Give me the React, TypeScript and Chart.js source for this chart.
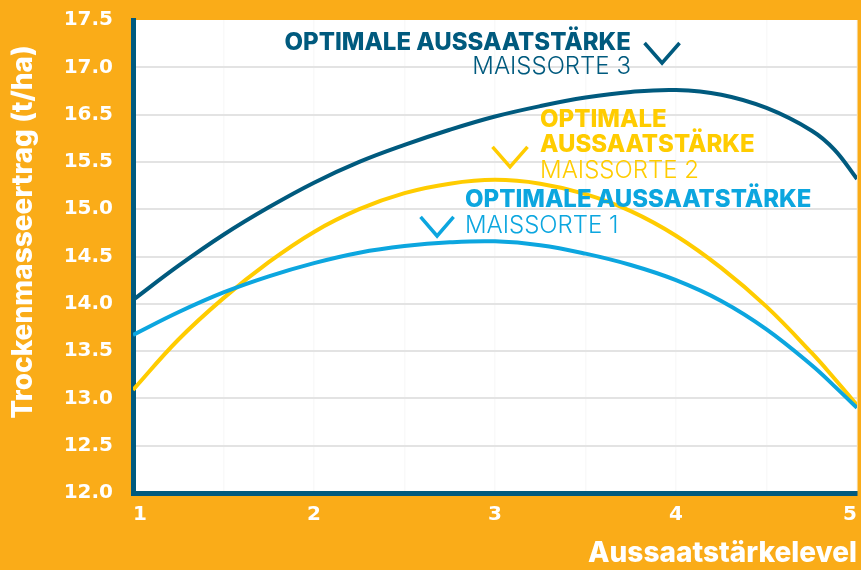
import React, { useEffect, useRef } from "react";
import { Chart, registerables } from "chart.js";

Chart.register(...registerables);

// ---- data ----
const levels = [1, 1.25, 1.5, 1.75, 2, 2.25, 2.5, 2.75, 3, 3.25, 3.5, 3.75, 4, 4.25, 4.5, 4.75, 4.875, 5];
const maissorte1 = [13.67, 13.91, 14.12, 14.29, 14.43, 14.54, 14.61, 14.65, 14.66, 14.62, 14.53, 14.41, 14.25, 14.03, 13.73, 13.35, 13.13, 12.9];
const maissorte2 = [13.09, 13.62, 14.06, 14.44, 14.76, 15.0, 15.17, 15.27, 15.31, 15.27, 15.16, 14.98, 14.72, 14.38, 13.97, 13.48, 13.21, 12.93];
const maissorte3 = [14.04, 14.4, 14.73, 15.02, 15.28, 15.5, 15.68, 15.84, 15.98, 16.09, 16.18, 16.24, 16.26, 16.21, 16.07, 15.83, 15.63, 15.32];
const yTickLabels = ["12.0", "12.5", "13.0", "13.5", "14.0", "14.5", "15.0", "15.5", "16.5", "17.0", "17.5"];
const xTickLabels = ["1", "2", "3", "4", "5"];
const seriesNames = ["Maissorte 1", "Maissorte 2", "Maissorte 3"];
const yTitle = "Trockenmasseertrag (t/ha)";
const xTitle = "Aussaatstärkelevel";

// ---- styles ----
const ORANGE = "#FAAC18";
const DARK = "#005A7E";
const YELLOW = "#FFCC00";
const BLUE = "#0CA6DF";
const FONT = "Inter, 'DejaVu Sans', sans-serif";
const TICK_FONT = "'DejaVu Sans', sans-serif";

type AnnLine = { text: string; bold: boolean; y: number };
type Ann = { color: string; x: number; align: CanvasTextAlign; lines: AnnLine[]; chevron: { x: number; y: number; hw: number; h: number } };

const annotations: Ann[] = [
  {
    color: DARK, x: 3.751, align: "right",
    lines: [
      { text: "OPTIMALE AUSSAATSTÄRKE", bold: true, y: 16.683 },
      { text: "MAISSORTE 3", bold: false, y: 16.429 },
    ],
    chevron: { x: 3.923, y: 16.757, hw: 17.5, h: 20 },
  },
  {
    color: YELLOW, x: 3.249, align: "left",
    lines: [
      { text: "OPTIMALE", bold: true, y: 15.869 },
      { text: "AUSSAATSTÄRKE", bold: true, y: 15.605 },
      { text: "MAISSORTE 2", bold: false, y: 15.33 },
    ],
    chevron: { x: 3.083, y: 15.658, hw: 17.5, h: 20 },
  },
  {
    color: BLUE, x: 2.834, align: "left",
    lines: [
      { text: "OPTIMALE AUSSAATSTÄRKE", bold: true, y: 15.023 },
      { text: "MAISSORTE 1", bold: false, y: 14.748 },
    ],
    chevron: { x: 2.68, y: 14.918, hw: 16.5, h: 19 },
  },
];

const bgPlugin = {
  id: "bg",
  beforeDraw(chart: any) {
    const { ctx, chartArea } = chart;
    ctx.save();
    ctx.fillStyle = ORANGE;
    ctx.fillRect(0, 0, chart.width, chart.height);
    ctx.fillStyle = "#ffffff";
    ctx.fillRect(chartArea.left, chartArea.top, chartArea.right - chartArea.left, chartArea.bottom - chartArea.top);
    ctx.restore();
  },
};

const annPlugin = {
  id: "ann",
  afterDraw(chart: any) {
    const { ctx } = chart;
    const xs = chart.scales.x;
    const ys = chart.scales.y;
    ctx.save();
    for (const a of annotations) {
      ctx.fillStyle = a.color;
      ctx.textAlign = a.align;
      ctx.textBaseline = "alphabetic";
      const px = xs.getPixelForValue(a.x);
      for (const l of a.lines) {
        ctx.font = l.bold ? `800 24px ${FONT}` : `300 24px ${FONT}`;
        ctx.fillText(l.text, px, ys.getPixelForValue(l.y));
      }
      const cx = xs.getPixelForValue(a.chevron.x);
      const cy = ys.getPixelForValue(a.chevron.y);
      ctx.strokeStyle = a.color;
      ctx.lineWidth = 3.5;
      ctx.lineJoin = "miter";
      ctx.beginPath();
      ctx.moveTo(cx - a.chevron.hw, cy);
      ctx.lineTo(cx, cy + a.chevron.h);
      ctx.lineTo(cx + a.chevron.hw, cy);
      ctx.stroke();
    }
    // y axis title
    ctx.translate(23.5, 232);
    ctx.rotate(-Math.PI / 2);
    ctx.fillStyle = "#ffffff";
    ctx.font = `800 28px ${FONT}`;
    ctx.textAlign = "center";
    ctx.textBaseline = "middle";
    ctx.fillText(yTitle, 0, 0);
    ctx.restore();
  },
};

export default function App() {
  const ref = useRef<HTMLCanvasElement | null>(null);
  useEffect(() => {
    document.body.style.margin = "0";
    const mk = (vals: number[]) => levels.map((x, i) => ({ x, y: vals[i] }));
    const common = { borderWidth: 4, pointRadius: 0, tension: 0.4, fill: false };
    const chart = new Chart(ref.current!, {
      type: "line",
      data: {
        datasets: [
          { label: seriesNames[0], data: mk(maissorte1), borderColor: BLUE, ...common },
          { label: seriesNames[1], data: mk(maissorte2), borderColor: YELLOW, ...common },
          { label: seriesNames[2], data: mk(maissorte3), borderColor: DARK, ...common },
        ],
      },
      options: {
        animation: false,
        responsive: false,
        layout: { padding: { top: 20, right: 4, left: 0, bottom: 0 } },
        plugins: { legend: { display: false }, tooltip: { enabled: false } },
        scales: {
          x: {
            type: "linear",
            min: 1,
            max: 5,
            afterFit: (s: any) => { s.height = 77; s.paddingLeft = 0; s.paddingRight = 0; },
            border: { display: true, color: DARK, width: 5 },
            grid: { color: "#f9f9f9", lineWidth: 1.5, drawTicks: false },
            ticks: {
              stepSize: 0.5,
              align: "inner",
              padding: 10,
              color: "#ffffff",
              font: { family: TICK_FONT, size: 20, weight: "bold" },
              callback: (v: any) => (Number.isInteger(v) ? xTickLabels[v - 1] : ""),
            },
            title: {
              display: true,
              text: xTitle,
              align: "end",
              color: "#ffffff",
              font: { family: FONT, size: 28, weight: "800" },
              padding: { top: 0, bottom: 0 },
            },
          },
          y: {
            type: "linear",
            min: 12,
            max: 17,
            afterFit: (s: any) => { s.width = 133; s.paddingTop = 0; s.paddingBottom = 0; },
            border: { display: true, color: DARK, width: 5 },
            grid: {
              color: (c: any) => (c.tick && c.tick.value >= 17 ? "rgba(0,0,0,0)" : "#e3e3e3"),
              lineWidth: 2,
              drawTicks: false,
            },
            ticks: {
              stepSize: 0.5,
              padding: 20,
              color: "#ffffff",
              font: { family: TICK_FONT, size: 20, weight: "bold" },
              callback: (v: any) => yTickLabels[Math.round((v - 12) / 0.5)],
            },
          },
        },
      },
      plugins: [bgPlugin, annPlugin],
    } as any);
    return () => chart.destroy();
  }, []);
  return (
    <div style={{ width: 861, height: 570 }}>
      <canvas ref={ref} width={861} height={570} style={{ display: "block" }} />
    </div>
  );
}
